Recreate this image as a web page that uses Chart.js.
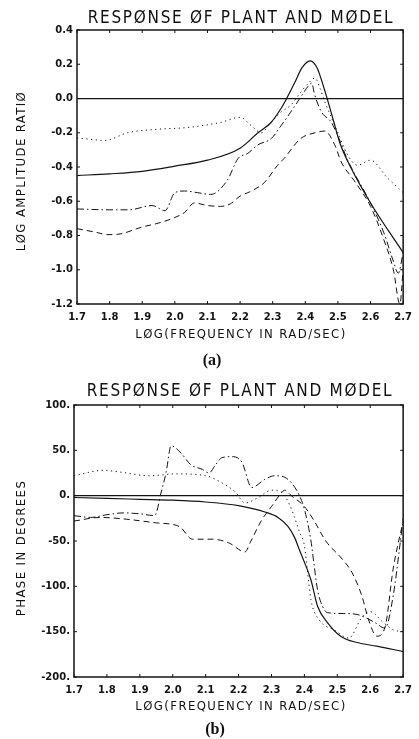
<!DOCTYPE html>
<html>
<head>
<meta charset="utf-8">
<script src="https://cdn.jsdelivr.net/npm/chart.js@4.4.1/dist/chart.umd.min.js"></script>
<style>
  html, body { margin: 0; padding: 0; background: #fff; }
  #page { position: relative; width: 419px; height: 739px; background: #fff; overflow: hidden; }
  .box { position: absolute; left: 0; width: 419px; }
  .txt { position: absolute; transform: translate(-50%, -50%); white-space: nowrap; color: #111; line-height: 1;
         font-family: "DejaVu Sans Condensed", "DejaVu Sans", sans-serif; font-weight: 300; }
  .title { font-size: 17px; letter-spacing: 1.7px; }
  .axis { font-size: 13px; letter-spacing: 1.4px; }
  .vert { transform: translate(-50%, -50%) rotate(-90deg); }
  .cap { font-family: "Liberation Serif", serif; font-weight: bold; font-size: 16px; letter-spacing: 0; }
</style>
</head>
<body>
<div id="page">
  <div class="box" style="top:0;height:345px"><canvas id="ampChart" width="419" height="345"></canvas></div>
  <div class="box" style="top:370px;height:369px"><canvas id="phaseChart" width="419" height="369"></canvas></div>

  <div class="txt title" style="left:241px;top:17px">RESPØNSE ØF PLANT AND MØDEL</div>
  <div class="txt axis vert" style="left:20px;top:171px">LØG AMPLITUDE RATIØ</div>
  <div class="txt axis" style="left:241px;top:333px">LØG(FREQUENCY IN RAD/SEC)</div>
  <div class="txt cap" style="left:212px;top:360px">(a)</div>

  <div class="txt title" style="left:240px;top:390px">RESPØNSE ØF PLANT AND MØDEL</div>
  <div class="txt axis vert" style="left:20px;top:548px">PHASE IN DEGREES</div>
  <div class="txt axis" style="left:241px;top:705px">LØG(FREQUENCY IN RAD/SEC)</div>
  <div class="txt cap" style="left:215px;top:729px">(b)</div>
</div>

<script>
// log frequency axis (both plots)
const freqMin = 1.7;
const freqMax = 2.7;

// (a) log amplitude ratio
const ampSolidX = [1.7, 1.8, 1.9, 2.0, 2.1, 2.2, 2.255, 2.295, 2.325, 2.34, 2.367, 2.39, 2.415, 2.436, 2.455, 2.47, 2.488, 2.506, 2.536, 2.6, 2.7];
const ampSolidY = [-0.45, -0.44, -0.425, -0.395, -0.36, -0.29, -0.2, -0.14, -0.06, -0.01, 0.09, 0.18, 0.22, 0.18, 0.075, -0.02, -0.14, -0.26, -0.39, -0.61, -0.9];

const ampDotX = [1.7, 1.75, 1.785, 1.855, 1.945, 2.035, 2.14, 2.2, 2.235, 2.265, 2.295, 2.325, 2.355, 2.385, 2.41, 2.43, 2.445, 2.46, 2.482, 2.5, 2.527, 2.56, 2.6, 2.65, 2.7];
const ampDotY = [-0.23, -0.24, -0.245, -0.2, -0.18, -0.17, -0.14, -0.11, -0.16, -0.2, -0.14, -0.08, -0.04, 0.035, 0.09, 0.12, 0.06, -0.02, -0.12, -0.2, -0.32, -0.39, -0.36, -0.46, -0.55];

const ampDashDotX = [1.7, 1.8, 1.86, 1.93, 1.97, 2.0, 2.03, 2.07, 2.11, 2.16, 2.194, 2.224, 2.255, 2.295, 2.325, 2.355, 2.39, 2.41, 2.42, 2.427, 2.436, 2.45, 2.48, 2.5, 2.53, 2.6, 2.64, 2.67, 2.685, 2.7];
const ampDashDotY = [-0.645, -0.65, -0.65, -0.625, -0.655, -0.55, -0.54, -0.55, -0.56, -0.48, -0.35, -0.32, -0.27, -0.235, -0.16, -0.08, 0.02, 0.075, 0.09, 0.035, -0.02, -0.08, -0.14, -0.22, -0.36, -0.61, -0.78, -0.95, -1.02, -0.9];

const ampDashX = [1.7, 1.755, 1.795, 1.835, 1.9, 1.945, 2.0, 2.03, 2.06, 2.1, 2.14, 2.17, 2.2, 2.235, 2.275, 2.315, 2.335, 2.385, 2.43, 2.46, 2.49, 2.51, 2.55, 2.6, 2.64, 2.67, 2.69, 2.7];
const ampDashY = [-0.76, -0.78, -0.795, -0.79, -0.75, -0.73, -0.695, -0.665, -0.61, -0.625, -0.63, -0.615, -0.57, -0.54, -0.49, -0.39, -0.35, -0.235, -0.2, -0.19, -0.27, -0.37, -0.48, -0.63, -0.82, -1.0, -1.2, -1.0];

// (b) phase in degrees
const phSolidX = [1.7, 1.8, 1.9, 2.0, 2.1, 2.2, 2.28, 2.32, 2.35, 2.37, 2.385, 2.405, 2.42, 2.44, 2.47, 2.51, 2.56, 2.62, 2.7];
const phSolidY = [-2, -3, -4, -5, -7, -11, -18, -24, -34, -46, -60, -78, -93, -122, -140, -155, -162, -166, -172];

const phDotX = [1.7, 1.79, 1.84, 1.93, 2.01, 2.1, 2.15, 2.19, 2.22, 2.26, 2.3, 2.33, 2.355, 2.37, 2.385, 2.4, 2.41, 2.42, 2.445, 2.49, 2.535, 2.575, 2.6, 2.64, 2.67, 2.7];
const phDotY = [22, 28, 26, 22, 24, 22, 14, 4, -8, -2, 6, 4, -10, -24, -40, -55, -85, -115, -137, -148, -157, -134, -128, -140, -148, -150];

const phDashDotX = [1.7, 1.75, 1.8, 1.85, 1.9, 1.945, 1.965, 1.98, 1.995, 2.025, 2.055, 2.09, 2.11, 2.13, 2.15, 2.18, 2.21, 2.24, 2.28, 2.31, 2.35, 2.385, 2.4, 2.42, 2.43, 2.44, 2.455, 2.47, 2.52, 2.56, 2.61, 2.645, 2.67, 2.69, 2.7];
const phDashDotY = [-22, -24, -21, -19, -20, -22, 4, 26, 55, 47, 34, 29, 25, 34, 42, 43, 37, 9, 18, 22, 18, 0, -15, -50, -78, -104, -122, -129, -130, -131, -139, -146, -110, -55, -25];

const phDashX = [1.7, 1.78, 1.86, 1.95, 2.02, 2.06, 2.12, 2.17, 2.22, 2.235, 2.27, 2.3, 2.33, 2.34, 2.36, 2.4, 2.43, 2.465, 2.515, 2.545, 2.575, 2.595, 2.62, 2.645, 2.67, 2.7];
const phDashY = [-28, -24, -26, -30, -34, -48, -48, -52, -62, -52, -27, -12, 3, 6, 0, -12, -28, -50, -70, -85, -111, -137, -155, -145, -80, -28];

const ampTicks = { min: -1.2, max: 0.4, step: 0.2 };
const phaseTicks = { min: -200, max: 100, step: 50 };

const INK = '#141414';

function pts(xs, ys) {
  return xs.map((x, i) => ({ x: x, y: ys[i] }));
}

function series(xs, ys, dash, width) {
  return {
    data: pts(xs, ys),
    borderColor: INK,
    borderWidth: width || 1,
    borderDash: dash,
    pointRadius: 0,
    fill: false,
    cubicInterpolationMode: 'monotone'
  };
}

// frame round the plot and small ticks pointing inwards, like the plotter output
const framePlugin = {
  id: 'frame',
  afterDraw(chart) {
    const { ctx, chartArea: a, scales } = chart;
    ctx.save();
    ctx.strokeStyle = INK;
    ctx.lineWidth = 1.5;
    ctx.strokeRect(a.left, a.top, a.right - a.left, a.bottom - a.top);
    ctx.lineWidth = 1;
    ctx.beginPath();
    scales.x.ticks.forEach(t => {
      const px = scales.x.getPixelForValue(t.value);
      ctx.moveTo(px, a.bottom); ctx.lineTo(px, a.bottom - 3);
      ctx.moveTo(px, a.top); ctx.lineTo(px, a.top + 3);
    });
    scales.y.ticks.forEach(t => {
      const py = scales.y.getPixelForValue(t.value);
      ctx.moveTo(a.left, py); ctx.lineTo(a.left + 3, py);
      ctx.moveTo(a.right, py); ctx.lineTo(a.right - 3, py);
    });
    ctx.stroke();
    ctx.restore();
  }
};

function makeChart(id, datasets, yTicks, yFmt, yWidth, pad) {
  return new Chart(document.getElementById(id), {
    type: 'line',
    data: { datasets: datasets },
    plugins: [framePlugin],
    options: {
      responsive: false,
      animation: false,
      devicePixelRatio: 1,
      layout: { padding: pad },
      plugins: { legend: { display: false }, tooltip: { enabled: false } },
      scales: {
        x: {
          type: 'linear',
          min: freqMin,
          max: freqMax,
          border: { display: false },
          grid: { display: false, drawTicks: false },
          ticks: {
            stepSize: 0.1,
            padding: 7,
            autoSkip: false,
            maxRotation: 0,
            color: INK,
            font: { family: 'DejaVu Sans', weight: 'bold', size: 10 },
            callback: v => Number(v).toFixed(1)
          },
          afterFit: s => { s.height = 24; }
        },
        y: {
          min: yTicks.min,
          max: yTicks.max,
          border: { display: false },
          grid: {
            drawTicks: false,
            lineWidth: 1.3,
            color: c => (c.tick && Math.abs(c.tick.value) < 1e-9 ? INK : 'rgba(0,0,0,0)')
          },
          ticks: {
            stepSize: yTicks.step,
            padding: 4,
            color: INK,
            font: { family: 'DejaVu Sans', weight: 'bold', size: 10 },
            callback: yFmt
          },
          afterFit: s => { s.width = yWidth; }
        }
      }
    }
  });
}

makeChart('ampChart', [
  series(ampSolidX, ampSolidY, [], 1.2),
  series(ampDotX, ampDotY, [1.2, 3.5], 1),
  series(ampDashDotX, ampDashDotY, [7, 3, 1.5, 3], 1),
  series(ampDashX, ampDashY, [6, 4], 1)
], ampTicks, v => (Math.abs(v) < 1e-9 ? '0.0' : v.toFixed(1)), 37,
  { left: 40, top: 30, right: 12, bottom: 17 });

makeChart('phaseChart', [
  series(phSolidX, phSolidY, [], 1.2),
  series(phDotX, phDotY, [1.2, 3.5], 1),
  series(phDashDotX, phDashDotY, [7, 3, 1.5, 3], 1),
  series(phDashX, phDashY, [6, 4], 1)
], phaseTicks, v => Math.round(v) + '.', 34,
  { left: 40, top: 35, right: 12, bottom: 38 });
</script>
</body>
</html>
